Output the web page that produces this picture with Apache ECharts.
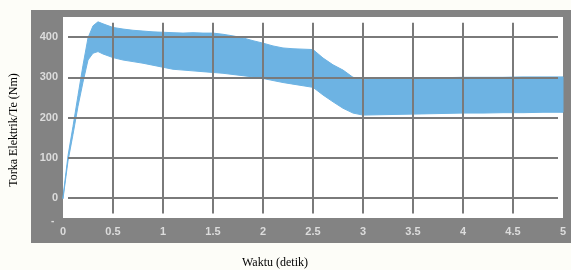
<!DOCTYPE html>
<html><head><meta charset="utf-8">
<script src="https://cdn.jsdelivr.net/npm/echarts@6/dist/echarts.min.js"></script>
<style>html,body{margin:0;padding:0;background:#fdfdf8}#c{width:571px;height:270px}</style>
</head><body><div id="c"></div>
<script>
// time (s)
var timeS = [0,0.05,0.1,0.15,0.2,0.25,0.3,0.35,0.4,0.5,0.6,0.7,0.8,0.9,1.0,1.1,1.2,1.3,1.4,1.5,1.6,1.7,1.8,1.9,2.0,2.1,2.2,2.3,2.4,2.5,2.6,2.7,2.8,2.9,3.0,3.2,3.4,3.6,3.8,4.0,4.2,4.4,4.6,4.8,5.0];
// upper envelope of torque (Nm)
var upperNm = [2,105,178,255,330,398,428,438,433,424,420,417,415,413,412,411,410,411,410,410,407,403,398,391,385,378,373,371,370,369,348,331,318,300,295,297,298,299,299,300,300,300,301,301,301];
// lower envelope of torque (Nm)
var lowerNm = [-2,92,158,228,288,343,360,364,358,349,343,339,335,330,325,320,318,316,314,312,310,307,304,301,297,292,287,283,279,275,256,239,223,211,206,207,208,209,210,211,211,212,212,213,213];
var xTicks = [0,0.5,1,1.5,2,2.5,3,3.5,4,4.5,5];
var yTicks = [0,100,200,300,400];
var vGrid = [0.5,1,1.5,2,2.5,3,3.5,4,4.5];

var gridLines = [];
vGrid.forEach(function(x){ gridLines.push([{coord:[x,-39]},{coord:[x,436]}]); });
yTicks.forEach(function(y){ gridLines.push([{coord:[0.05,y]},{coord:[4.95,y]}]); });

var chart = echarts.init(document.getElementById('c'), null, {renderer:'canvas'});
var band = '#6db3e3';
chart.setOption({
  animation:false,
  backgroundColor:'#fdfdf8',
  graphic:[
    {type:'rect', z:-10, shape:{x:31,y:10,width:540,height:233}, style:{fill:'#838383'}},
    {type:'text', left:51, top:216, z:5, style:{text:'-', fill:'#dcdcdc', font:'bold 10px "Liberation Sans"'}},
    {type:'text', x:14, y:130, rotation:Math.PI/2, z:5, style:{text:'Torka Elektrik/Te (Nm)', fill:'#000', font:'12px "Liberation Serif"', align:'center', verticalAlign:'middle'}},
    {type:'text', x:275, y:263, z:5, style:{text:'Waktu (detik)', fill:'#000', font:'12px "Liberation Serif"', align:'center', verticalAlign:'middle'}}
  ],
  grid:{left:63, right:8, top:17, bottom:52, show:true, backgroundColor:'#ffffff', borderWidth:0},
  xAxis:{type:'value', min:0, max:5, interval:0.5,
    axisLine:{show:false}, axisTick:{show:false}, splitLine:{show:false},
    axisLabel:{color:'#dcdcdc', fontSize:11, fontWeight:'bold', fontFamily:'Liberation Sans', margin:8,
      formatter:function(v){return xTicks.indexOf(v)>=0? String(v):'';}}},
  yAxis:{type:'value', min:-50, max:450, interval:50,
    axisLine:{show:false}, axisTick:{show:false}, splitLine:{show:false},
    axisLabel:{color:'#dcdcdc', fontSize:11, fontWeight:'bold', fontFamily:'Liberation Sans', margin:5,
      formatter:function(v){return yTicks.indexOf(v)>=0? String(v):'';}}},
  series:[
    {type:'line', data:[], z:1, silent:true,
     markLine:{silent:true, symbol:'none', label:{show:false}, lineStyle:{color:'#7a7a7a', width:2, type:'solid'}, data:gridLines}},
    {type:'custom', z:3, silent:true, data:[[0,0]],
     renderItem:function(params, api){
       var pts = [];
       for (var i=0;i<timeS.length;i++) pts.push(api.coord([timeS[i], upperNm[i]]));
       for (var j=timeS.length-1;j>=0;j--) pts.push(api.coord([timeS[j], lowerNm[j]]));
       return {type:'polygon', shape:{points:pts}, style:{fill:band, stroke:band, lineWidth:1}};
     }}
  ]
});
</script></body></html>
